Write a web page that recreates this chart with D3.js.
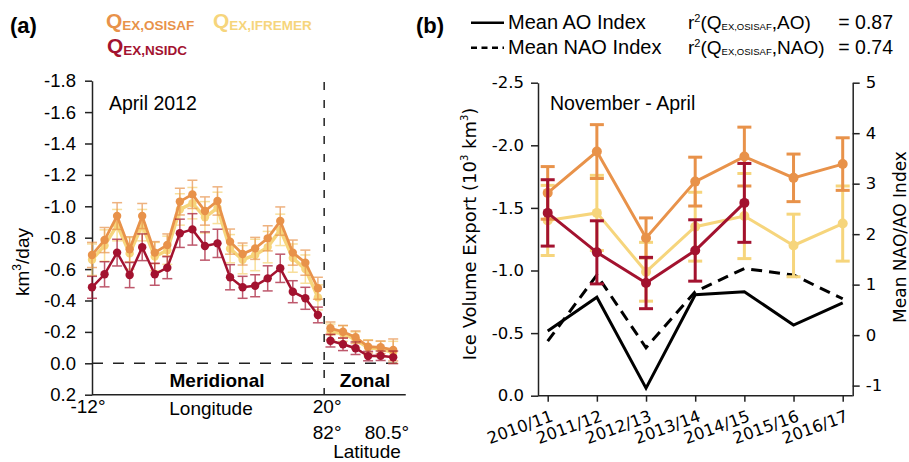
<!DOCTYPE html>
<html lang="en">
<head>
<meta charset="utf-8">
<title>Ice volume export</title>
<script src="https://d3js.org/d3.v7.min.js"></script>
<style>
  body { margin: 0; background: #fff; }
  svg text { font-family: "Liberation Sans", Arial, sans-serif; fill: #000; }
  .dv text, text.dv { font-family: "DejaVu Sans", sans-serif; }
  .axis path, .axis line { stroke: #222; stroke-width: 1.5; }
</style>
</head>
<body>
<script>
// ---- panel (a): April 2012 daily export along the gate ----
// gate positions: 0..18 meridional, 19..24 zonal
var gateIdx = [0,1,2,3,4,5,6,7,8,9,10,11,12,13,14,15,16,17,18,19,20,21,22,23,24];
var qOsisafA = [-0.69,-0.785,-0.938,-0.726,-0.938,-0.705,-0.754,-1.03,-1.076,-0.97,-1.034,-0.775,-0.696,-0.732,-0.796,-0.906,-0.705,-0.641,-0.478,-0.223,-0.201,-0.166,-0.106,-0.102,-0.085];
var qOsisafAErr = [0.08,0.08,0.085,0.08,0.08,0.07,0.07,0.085,0.09,0.09,0.09,0.08,0.07,0.07,0.08,0.09,0.08,0.08,0.07,0.04,0.04,0.04,0.04,0.04,0.07];
var qIfremerA = [-0.66,-0.75,-0.88,-0.70,-0.88,-0.68,-0.72,-0.98,-1.02,-0.93,-0.99,-0.73,-0.66,-0.69,-0.74,-0.85,-0.67,-0.60,-0.42,-0.20,-0.19,-0.15,-0.10,-0.09,-0.07];
var qIfremerAErr = [0.1,0.1,0.1,0.1,0.1,0.09,0.09,0.1,0.1,0.1,0.1,0.09,0.09,0.1,0.1,0.1,0.09,0.09,0.08,0.05,0.05,0.05,0.05,0.05,0.07];
var qNsidcA = [-0.484,-0.567,-0.705,-0.562,-0.739,-0.567,-0.609,-0.828,-0.853,-0.747,-0.764,-0.548,-0.484,-0.494,-0.541,-0.605,-0.456,-0.414,-0.308,-0.144,-0.121,-0.096,-0.046,-0.048,-0.038];
var qNsidcAErr = [0.07,0.08,0.085,0.08,0.085,0.07,0.07,0.09,0.1,0.09,0.09,0.08,0.07,0.07,0.08,0.09,0.07,0.07,0.05,0.04,0.04,0.04,0.03,0.03,0.04];
var aTicks = [-1.8,-1.6,-1.4,-1.2,-1.0,-0.8,-0.6,-0.4,-0.2,0.0,0.2];

// ---- panel (b): November - April totals ----
var winters = ["2010/11","2011/12","2012/13","2013/14","2014/15","2015/16","2016/17"];
var qOsisafB = [-1.62,-1.95,-1.26,-1.71,-1.91,-1.74,-1.85];
var qOsisafBErr = [0.21,0.215,0.16,0.195,0.235,0.19,0.21];
var qIfremerB = [-1.40,-1.46,-0.99,-1.35,-1.435,-1.20,-1.375];
var qIfremerBErr = [0.28,0.3,0.235,0.275,0.34,0.25,0.3];
var qNsidcB = [-1.46,-1.145,-0.90,-1.16,-1.54];
var qNsidcBErr = [0.265,0.252,0.205,0.245,0.315];
var aoIndex = [0.08,0.75,-1.05,0.80,0.86,0.20,0.64];
var naoIndex = [-0.12,1.19,-0.25,0.86,1.32,1.19,0.72];
var bTicks = [-2.5,-2.0,-1.5,-1.0,-0.5,0.0];
var rTicks = [-1,0,1,2,3,4,5];

var cOsisaf = "#E8924A", cIfremer = "#F6D57C", cNsidc = "#A3122F";

var w = 909, h = 462;
var svg = d3.select("body").append("svg")
    .attr("width", w)
    .attr("height", h);

/*************************************
/* Panel (a)
/*************************************/
var xA = d3.scaleLinear().domain([0, 25]).range([92, 405.75]);
var yA = d3.scaleLinear().domain([-1.8, 0.2]).range([80.7, 394.7]);

var axA = svg.append("g")
    .attr("class", "axis")
    .attr("transform", "translate(" + xA(0) + ",0)")
    .call(d3.axisLeft(yA).tickValues(aTicks).tickSize(7).tickSizeOuter(0)
        .tickFormat(function(d) { return d.toFixed(1); }));
axA.selectAll("text").attr("font-size", 18.5).attr("font-family", "Liberation Sans, Arial, sans-serif").attr("x", -16);

// bottom line
svg.append("line")
    .attr("x1", xA(0)).attr("x2", xA(25))
    .attr("y1", yA(0.2)).attr("y2", yA(0.2))
    .attr("stroke", "#222").attr("stroke-width", 1.5);

// zero line + meridional/zonal separator
svg.append("line")
    .attr("x1", xA(0)).attr("x2", xA(25))
    .attr("y1", yA(0)).attr("y2", yA(0))
    .attr("stroke", "#222").attr("stroke-width", 1.5)
    .attr("stroke-dasharray", "11,10");
svg.append("line")
    .attr("x1", xA(18.5)).attr("x2", xA(18.5))
    .attr("y1", 82).attr("y2", yA(0.2))
    .attr("stroke", "#222").attr("stroke-width", 1.5)
    .attr("stroke-dasharray", "8,10");

function drawSeriesA(vals, errs, color, lw, alpha) {
    var g = svg.append("g");
    var pts = vals.map(function(v, i) { return {i: gateIdx[i], v: v, e: errs[i]}; });
    // error bars
    var eb = g.append("g").attr("opacity", alpha);
    pts.forEach(function(p) {
        var x = xA(p.i);
        eb.append("line").attr("x1", x).attr("x2", x)
            .attr("y1", yA(p.v - p.e)).attr("y2", yA(p.v + p.e))
            .attr("stroke", color).attr("stroke-width", 1.5);
        [p.v - p.e, p.v + p.e].forEach(function(yv) {
            eb.append("line").attr("x1", x - 5).attr("x2", x + 5)
                .attr("y1", yA(yv)).attr("y2", yA(yv))
                .attr("stroke", color).attr("stroke-width", 1.5);
        });
    });
    var line = d3.line().x(function(d) { return xA(d.i); }).y(function(d) { return yA(d.v); });
    // meridional and zonal are separate segments
    [pts.filter(function(d) { return d.i <= 18; }), pts.filter(function(d) { return d.i >= 19; })]
        .forEach(function(seg) {
            g.append("path").attr("d", line(seg))
                .attr("fill", "none").attr("stroke", color).attr("stroke-width", lw);
        });
    g.selectAll("circle").data(pts).enter().append("circle")
        .attr("cx", function(d) { return xA(d.i); })
        .attr("cy", function(d) { return yA(d.v); })
        .attr("r", 4.2).attr("fill", color);
}
drawSeriesA(qIfremerA, qIfremerAErr, cIfremer, 3.5, 0.75);
drawSeriesA(qOsisafA, qOsisafAErr, cOsisaf, 2.8, 0.7);
drawSeriesA(qNsidcA, qNsidcAErr, cNsidc, 2.5, 0.7);

// x labels panel (a)
function txt(x, y, s, size, anchor, weight) {
    return svg.append("text").attr("x", x).attr("y", y).text(s)
        .attr("font-size", size).attr("text-anchor", anchor || "start")
        .attr("font-weight", weight || "normal");
}
txt(88, 413, "-12°", 19, "middle");
txt(xA(18.5) + 3, 413, "20°", 19, "middle");
txt(xA(18.5) + 3, 439, "82°", 19, "middle");
txt(xA(23.5), 439, "80.5°", 19, "middle");
txt(211, 415, "Longitude", 19, "middle");
txt(367, 458, "Latitude", 19, "middle");
txt(217, 387, "Meridional", 19, "middle", "bold");
txt(365, 387, "Zonal", 19, "middle", "bold");
txt(109, 110, "April 2012", 19.5, "start");
txt(10, 33, "(a)", 22, "start", "bold");

// y label (a)
var ylA = svg.append("text")
    .attr("transform", "translate(22,262) rotate(-90)")
    .attr("text-anchor", "middle").attr("dy", "0.35em").attr("font-size", 19);
ylA.append("tspan").text("km");
ylA.append("tspan").text("3").attr("font-size", 12).attr("dy", -8);
ylA.append("tspan").text("/day").attr("dy", 8);

// legend (a)
function qLabel(x, y, sub, color) {
    var t = svg.append("text").attr("x", x).attr("y", y).attr("fill", color)
        .style("fill", color).attr("font-weight", "bold");
    t.append("tspan").text("Q").attr("font-size", 21);
    t.append("tspan").text(sub).attr("font-size", 13.5).attr("dy", 2);
}
qLabel(106, 28, "EX,OSISAF", cOsisaf);
qLabel(213, 28, "EX,IFREMER", cIfremer);
qLabel(107, 53, "EX,NSIDC", cNsidc);

/*************************************
/* Panel (b)
/*************************************/
var xB = d3.scalePoint().domain(winters).range([547.7, 842.7]);
var yB = d3.scaleLinear().domain([-2.5, 0]).range([82.7, 395.7]);
var yR = d3.scaleLinear().domain([-1.2, 5]).range([395.7, 82.7]);

var axL = svg.append("g").attr("class", "axis dv")
    .attr("transform", "translate(538,0)")
    .call(d3.axisLeft(yB).tickValues(bTicks).tickSize(7).tickSizeOuter(0)
        .tickFormat(function(d) { return d.toFixed(1); }));
axL.selectAll("text").attr("font-size", 16.5).attr("font-family", "DejaVu Sans, sans-serif").attr("x", -14);

var axR = svg.append("g").attr("class", "axis dv")
    .attr("transform", "translate(852.7,0)")
    .call(d3.axisRight(yR).tickValues(rTicks).tickSize(7).tickSizeOuter(0)
        .tickFormat(function(d) { return String(d); }));
axR.selectAll("text").attr("font-size", 16.5).attr("font-family", "DejaVu Sans, sans-serif").attr("x", 13);

var axB = svg.append("g").attr("class", "axis dv")
    .attr("transform", "translate(0,395.7)")
    .call(d3.axisBottom(xB).tickSize(6).tickSizeOuter(0));
axB.select(".domain").remove();
axB.selectAll("text")
    .attr("font-size", 16.5).attr("font-family", "DejaVu Sans, sans-serif")
    .attr("text-anchor", "end")
    .attr("y", 0).attr("dy", 0)
    .attr("transform", "translate(6,25) rotate(-20)");
svg.append("line")
    .attr("x1", 538).attr("x2", 852.7)
    .attr("y1", 395.7).attr("y2", 395.7)
    .attr("stroke", "#222").attr("stroke-width", 1.5);

// AO / NAO on right axis
var lineR = d3.line().x(function(d, i) { return xB(winters[i]); }).y(function(d) { return yR(d); });
svg.append("path").attr("d", lineR(aoIndex))
    .attr("fill", "none").attr("stroke", "#000").attr("stroke-width", 3);
svg.append("path").attr("d", lineR(naoIndex))
    .attr("fill", "none").attr("stroke", "#000").attr("stroke-width", 3)
    .attr("stroke-dasharray", "11,7");

function drawSeriesB(vals, errs, color) {
    var g = svg.append("g");
    var pts = vals.map(function(v, i) { return {c: winters[i], v: v, e: errs[i]}; });
    g.append("path")
        .attr("d", d3.line().x(function(d) { return xB(d.c); }).y(function(d) { return yB(d.v); })(pts))
        .attr("fill", "none").attr("stroke", color).attr("stroke-width", 3);
    pts.forEach(function(p) {
        var x = xB(p.c);
        g.append("line").attr("x1", x).attr("x2", x)
            .attr("y1", yB(p.v - p.e)).attr("y2", yB(p.v + p.e))
            .attr("stroke", color).attr("stroke-width", 3);
        [p.v - p.e, p.v + p.e].forEach(function(yv) {
            g.append("line").attr("x1", x - 7).attr("x2", x + 7)
                .attr("y1", yB(yv)).attr("y2", yB(yv))
                .attr("stroke", color).attr("stroke-width", 3);
        });
    });
    g.selectAll("circle").data(pts).enter().append("circle")
        .attr("cx", function(d) { return xB(d.c); })
        .attr("cy", function(d) { return yB(d.v); })
        .attr("r", 5).attr("fill", color);
}
drawSeriesB(qIfremerB, qIfremerBErr, cIfremer);
drawSeriesB(qOsisafB, qOsisafBErr, cOsisaf);
drawSeriesB(qNsidcB, qNsidcBErr, cNsidc);

txt(550, 110, "November - April", 19.5, "start");
txt(416, 33, "(b)", 22, "start", "bold");

// axis titles (b)
var ylB = svg.append("text").attr("class", "dv")
    .attr("transform", "translate(470,234) rotate(-90)")
    .attr("text-anchor", "middle").attr("dy", "0.35em").attr("font-size", 18);
ylB.append("tspan").text("Ice Volume Export (10");
ylB.append("tspan").text("3").attr("font-size", 10).attr("dy", -8);
ylB.append("tspan").text(" km").attr("dy", 8);
ylB.append("tspan").text("3").attr("font-size", 10).attr("dy", -8);
ylB.append("tspan").text(")").attr("dy", 8);

svg.append("text").attr("class", "dv")
    .attr("transform", "translate(900,237) rotate(-90)")
    .attr("text-anchor", "middle").attr("dy", "0.35em").attr("font-size", 17)
    .text("Mean NAO/AO Index");

// legend (b)
svg.append("line").attr("x1", 471).attr("x2", 504).attr("y1", 22.7).attr("y2", 22.7)
    .attr("stroke", "#000").attr("stroke-width", 2.5);
svg.append("line").attr("x1", 471).attr("x2", 504).attr("y1", 47.7).attr("y2", 47.7)
    .attr("stroke", "#000").attr("stroke-width", 2.5).attr("stroke-dasharray", "6,4.5");
txt(508, 29, "Mean AO Index", 20, "start");
txt(508, 54, "Mean NAO Index", 20, "start");

function r2Label(y, idx, val) {
    var t = svg.append("text").attr("x", 688).attr("y", y).attr("font-size", 19);
    t.append("tspan").text("r");
    t.append("tspan").text("2").attr("font-size", 11).attr("dy", -7);
    t.append("tspan").text("(Q").attr("dy", 7);
    t.append("tspan").text("EX,OSISAF").attr("font-size", 9.5).attr("dy", 1);
    t.append("tspan").text("," + idx + ")").attr("dy", -1);
    txt(893, y, "= " + val, 19.5, "end");
}
r2Label(29, "AO", "0.87");
r2Label(54, "NAO", "0.74");
</script>
</body>
</html>
